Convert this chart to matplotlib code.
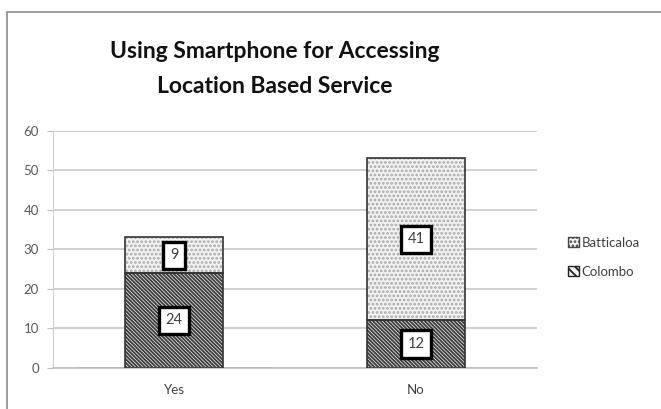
import matplotlib.pyplot as plt
from matplotlib.patches import Rectangle

categories = ["Yes", "No"]
colombo = [24, 12]
batticaloa = [9, 41]
yticks = [0, 10, 20, 30, 40, 50, 60]

plt.rcParams['font.family'] = ['Lato', 'DejaVu Sans']
plt.rcParams['hatch.linewidth'] = 1.3

fig = plt.figure(figsize=(6.61, 4.09), dpi=100)
# chart border
fig.patches.append(Rectangle((7 / 661, -0.05), 1.0, 1.05 - 12 / 409, transform=fig.transFigure,
                             fill=False, edgecolor="#8c8c8c", linewidth=1.2))

ax = fig.add_axes([53 / 661, 1 - 367.7 / 409, 484 / 661, 237 / 409])
x = range(len(categories))
w = 0.405

# hatched fills (hatch color = edgecolor), then outlines
ax.bar(x, colombo, w, color="#e8e8e8", edgecolor="#3a3a3a", hatch="\\" * 9, linewidth=0, zorder=2)
ax.bar(x, batticaloa, w, bottom=colombo, color="#f2f2f2", edgecolor="#a8a8a8", hatch="....",
       linewidth=0, zorder=2)
ax.bar(x, colombo, w, fill=False, edgecolor="#333333", linewidth=1.2, zorder=3)
ax.bar(x, batticaloa, w, bottom=colombo, fill=False, edgecolor="#333333", linewidth=1.2, zorder=3)

for i in x:
    for val, base in ((colombo[i], 0), (batticaloa[i], colombo[i])):
        ax.text(i, base + val / 2, str(val), ha="center", va="center", fontsize=10.5, color="#404040",
                zorder=5, bbox=dict(boxstyle="square,pad=0.45", facecolor="white", edgecolor="black",
                                    linewidth=2.4))

ax.set_xlim(-0.5, 1.5)
ax.set_ylim(0, 60)
ax.set_yticks(yticks)
ax.set_xticks(list(x))
ax.set_xticklabels(categories)
ax.yaxis.grid(True, color="#c8c8c8", linewidth=1.2, zorder=0)
ax.set_axisbelow(True)
for s in ("top", "right"):
    ax.spines[s].set_visible(False)
ax.spines["left"].set_color("#d0d0d0")
ax.spines["bottom"].set_color("#c0c0c0")
ax.spines["bottom"].set_linewidth(1.2)
ax.tick_params(axis="y", colors="#595959", labelsize=9.5, length=4, pad=6, color="#c0c0c0")
ax.tick_params(axis="x", colors="#404040", labelsize=9.5, length=0, pad=12)

fig.text(0.416, 0.832, "Using Smartphone for Accessing\nLocation Based Service", ha="center", va="center",
         fontsize=16.5, fontweight="bold", color="#111111", linespacing=1.8)

# legend
hb = ax.bar([0], [0], color="#f4f4f4", edgecolor="#444444", hatch="....", linewidth=1)
hc = ax.bar([0], [0], color="#f2f2f2", edgecolor="#222222", hatch="\\\\\\\\", linewidth=1)
fig.legend([hb, hc], ["Batticaloa", "Colombo"], loc="center left", bbox_to_anchor=(0.842, 0.371),
           frameon=False, fontsize=9.5, handlelength=0.8, handleheight=0.8, handletextpad=0.2,
           labelspacing=1.3, labelcolor="#404040")

fig.savefig("out.png", dpi=100)
